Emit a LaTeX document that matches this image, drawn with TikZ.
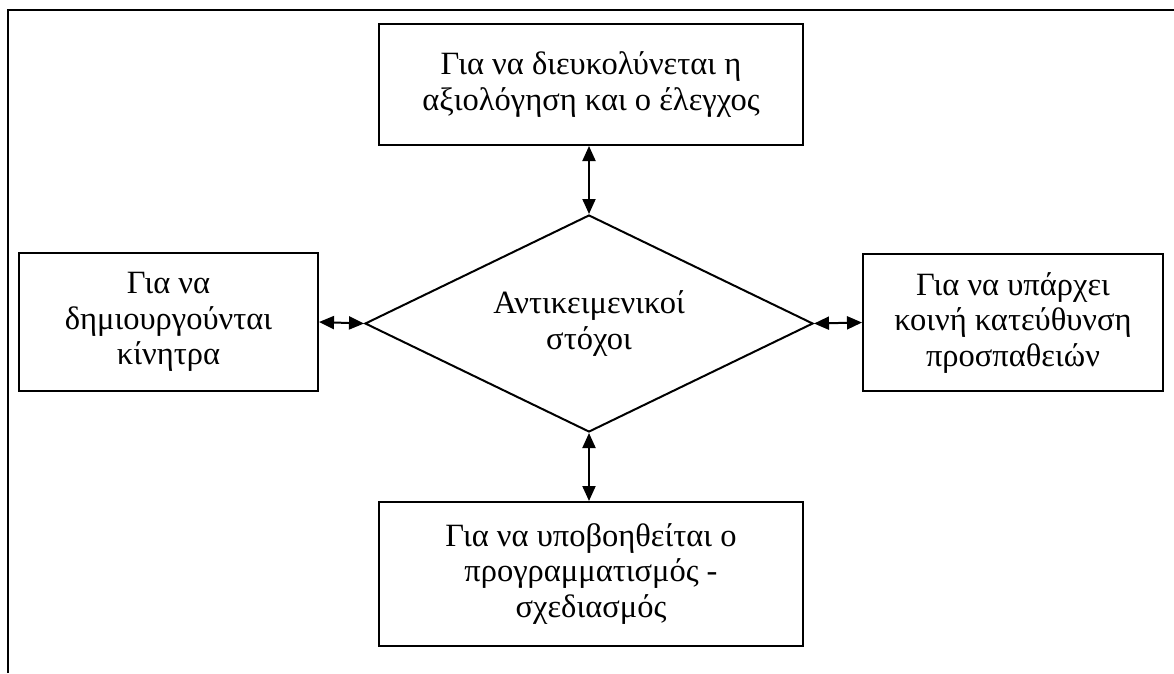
\documentclass[tikz,border=0pt]{standalone}
\usepackage{fontspec}
\setmainfont{Liberation Serif}
\usetikzlibrary{arrows.meta,shapes.geometric}
\begin{document}
\begin{tikzpicture}[x=1pt,y=-1pt,
  txt/.style={align=center, inner sep=0pt, font=\fontsize{32.5}{35.5}\selectfont},
  box/.style={txt, draw, line width=2pt},
  link/.style={line width=2pt, {Triangle[length=15pt,width=13pt]}-{Triangle[length=15pt,width=13pt]}},
]
\useasboundingbox (0,0) rectangle (1174,673);
% outer frame (left and top sides only)
\draw[line width=2pt] (8,673) -- (8,9.5) -- (1174,9.5);

% central diamond
\node[txt, shape=diamond, shape aspect=2.06, draw, line width=2pt,
      minimum width=448pt, minimum height=217pt]
  (goal) at (589,323.5) {Αντικειμενικοί\\στόχοι};

% surrounding boxes
\node[box, minimum width=424pt, minimum height=121pt] (top) at (591,84.5)
  {Για να διευκολύνεται η\\αξιολόγηση και ο έλεγχος};
\node[box, minimum width=299pt, minimum height=138pt] (left) at (168.5,322)
  {Για να\\δημιουργούνται\\κίνητρα};
\node[box, minimum width=300pt, minimum height=137pt] (right) at (1013,322.5)
  {Για να υπάρχει\\κοινή κατεύθυνση\\προσπαθειών};
\node[box, minimum width=424pt, minimum height=144pt] (bottom) at (591,574)
  {Για να υποβοηθείται ο\\προγραμματισμός -\\σχεδιασμός};

% two-way connectors
\draw[link] (goal.north) -- (goal.north |- top.south);
\draw[link] (goal.south) -- (goal.south |- bottom.north);
\draw[link] (left.east) -- (goal.west);
\draw[link] (goal.east) -- (right.west);
\end{tikzpicture}
\end{document}
